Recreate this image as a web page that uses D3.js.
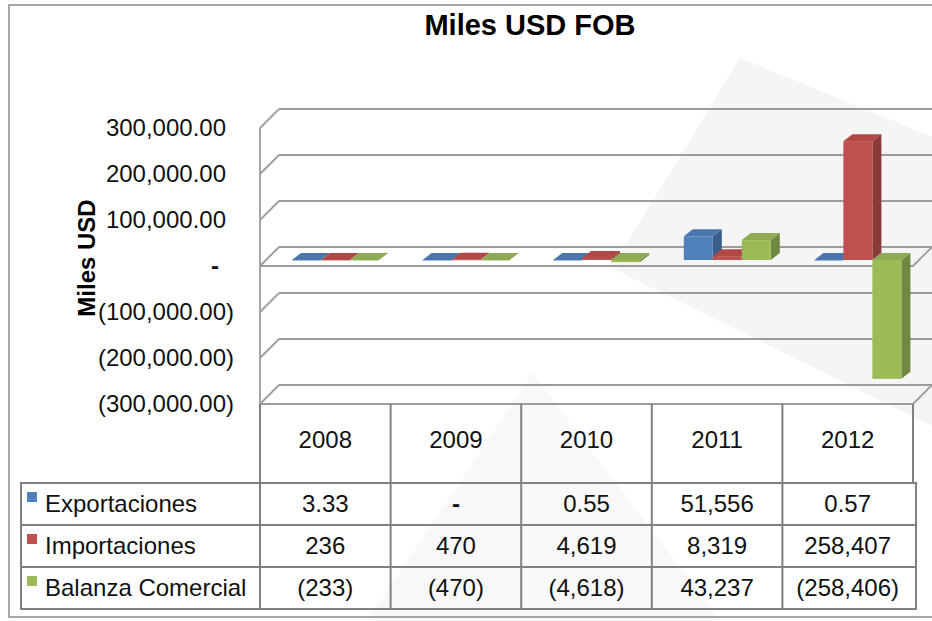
<!DOCTYPE html>
<html>
<head>
<meta charset="utf-8">
<script src="https://cdn.jsdelivr.net/npm/d3@7"></script>
<style>
  html, body { margin: 0; padding: 0; background: #fff; }
  svg { display: block; font-family: "Liberation Sans", Arial, sans-serif; }
</style>
</head>
<body>
<div id="chart"></div>
<script>
// DATA //

const years = [ '2008', '2009', '2010', '2011', '2012' ];
const seriesNames = [ 'Exportaciones', 'Importaciones', 'Balanza Comercial' ];
const exportaciones = [ 3.33, 0, 0.55, 51556, 0.57 ];
const importaciones = [ 236, 470, 4619, 8319, 258407 ];
const balanza = [ -233, -470, -4618, 43237, -258406 ];
const yTicks = [ -300000, -200000, -100000, 0, 100000, 200000, 300000 ];
const colors = [ '#4F81BD', '#C0504D', '#9BBB59' ];

const series = [ exportaciones, importaciones, balanza ];

// FUNCTIONS //

// Excel style accounting label: (1,234) for negatives, "-" for zero.
function tableLabel( v ) {
	if ( v === 0 ) return '-';
	const a = Math.abs( v );
	const s = a < 10 ? d3.format( ',.2f' )( a ) : d3.format( ',.0f' )( a );
	return v < 0 ? '(' + s + ')' : s;
}

function tickLabel( v ) {
	if ( v === 0 ) return '-';
	const s = d3.format( ',.2f' )( Math.abs( v ) );
	return v < 0 ? '(' + s + ')' : s;
}

// MAIN //

const W = 932, H = 621;
const svg = d3.select( '#chart' ).append( 'svg' )
	.attr( 'width', W )
	.attr( 'height', H );

// faint watermark shapes in the background of the scan
svg.append( 'polygon' )
	.attr( 'points', '740,58 940,140 940,430 612,268' )
	.style( 'fill', '#f5f5f5' );
svg.append( 'polygon' )
	.attr( 'points', '533,373 367,621 720,621' )
	.style( 'fill', '#f8f8f8' );

// outer frame
svg.append( 'rect' )
	.attr( 'x', 9 ).attr( 'y', 5 )
	.attr( 'width', 940 ).attr( 'height', 612 )
	.style( 'fill', 'none' )
	.style( 'stroke', '#8a8a8a' )
	.style( 'stroke-width', 1.5 );

svg.append( 'text' )
	.attr( 'x', 530 ).attr( 'y', 35 )
	.attr( 'text-anchor', 'middle' )
	.style( 'font-weight', 'bold' )
	.style( 'font-size', '29px' )
	.text( 'Miles USD FOB' );

// scales
const x = d3.scaleBand().domain( years ).range([ 260, 913 ]);
const y = d3.scaleLinear().domain([ -300000, 300000 ]).range([ 404, 128 ]);
// bars sit a little behind the front plane
const yBar = d3.scaleLinear().domain( y.domain() ).range([ 398, 122 ]);
const xSeries = d3.scaleBand().domain( seriesNames ).range([ 0, 87 ]);

const D = { dx: 19, dy: -19 };   // wall depth
const B = { dx: 9, dy: -7, sx: 32 };  // bar depth and offset inside a category
const gridStroke = '#9c9c9c';

const grid = svg.append( 'g' )
	.style( 'stroke', gridStroke )
	.style( 'stroke-width', 1.8 )
	.style( 'fill', 'none' );

// back wall lines + side wall diagonals
yTicks.forEach( t => {
	grid.append( 'line' )
		.attr( 'x1', 260 + D.dx ).attr( 'y1', y( t ) + D.dy )
		.attr( 'x2', W + 10 ).attr( 'y2', y( t ) + D.dy );
	grid.append( 'line' )
		.attr( 'x1', 260 ).attr( 'y1', y( t ) )
		.attr( 'x2', 260 + D.dx ).attr( 'y2', y( t ) + D.dy );
});

// front edge of the floor at zero and at the axis minimum
[ 0, -300000 ].forEach( t => {
	grid.append( 'polyline' )
		.attr( 'points', [
			[ 260, y( t ) ], [ 913, y( t ) ], [ 913 + D.dx, y( t ) + D.dy ]
		].join( ' ' ) );
});

// front left edge
grid.append( 'line' )
	.attr( 'x1', 260 ).attr( 'y1', y( 300000 ) )
	.attr( 'x2', 260 ).attr( 'y2', y( -300000 ) );

// axis labels
const axis = svg.append( 'g' )
	.style( 'font-size', '24px' )
	.style( 'fill', '#111' );
axis.selectAll( 'text' )
	.data( yTicks )
	.enter().append( 'text' )
	.attr( 'x', d => d < 0 ? 234 : ( d === 0 ? 219 : 226 ) )
	.attr( 'y', d => y( d ) + 8 )
	.attr( 'text-anchor', 'end' )
	.style( 'font-weight', d => d === 0 ? 'bold' : 'normal' )
	.text( tickLabel );

svg.append( 'text' )
	.attr( 'transform', 'translate(95,258) rotate(-90)' )
	.attr( 'text-anchor', 'middle' )
	.style( 'font-weight', 'bold' )
	.style( 'font-size', '24px' )
	.text( 'Miles USD' );

// bars, drawn left to right so right side faces are overlapped correctly
const bars = svg.append( 'g' );
years.forEach( ( yr, i ) => {
	series.forEach( ( vals, j ) => {
		const v = vals[ i ];
		const c = d3.color( colors[ j ] );
		const x0 = x( yr ) + B.sx + xSeries( seriesNames[ j ] );
		const x1 = x0 + xSeries.bandwidth();
		const yTop = yBar( Math.max( v, 0 ) );
		const yBot = yBar( Math.min( v, 0 ) );
		const g = bars.append( 'g' );
		// side
		g.append( 'polygon' )
			.attr( 'points', [
				[ x1, yTop ], [ x1 + B.dx, yTop + B.dy ], [ x1 + B.dx, yBot + B.dy ], [ x1, yBot ]
			].join( ' ' ) )
			.style( 'fill', c.darker( 0.9 ) );
		// front
		g.append( 'rect' )
			.attr( 'x', x0 ).attr( 'y', yTop )
			.attr( 'width', x1 - x0 ).attr( 'height', Math.max( yBot - yTop, 0.5 ) )
			.style( 'fill', c );
		// top
		g.append( 'polygon' )
			.attr( 'points', [
				[ x0, yTop ], [ x0 + B.dx, yTop + B.dy ], [ x1 + B.dx, yTop + B.dy ], [ x1, yTop ]
			].join( ' ' ) )
			.style( 'fill', c.darker( 0.25 ) );
	});
});

// data table
const rowTop = 483, rowH = 42, tLeft = 21, tRight = 916;
const table = svg.append( 'g' );
const tableLines = table.append( 'g' )
	.style( 'stroke', '#808080' )
	.style( 'stroke-width', 2 )
	.style( 'fill', 'none' );

// header cells (years) under the floor
years.forEach( yr => {
	tableLines.append( 'line' )
		.attr( 'x1', x( yr ) ).attr( 'y1', y( -300000 ) )
		.attr( 'x2', x( yr ) ).attr( 'y2', rowTop );
});
tableLines.append( 'line' )
	.attr( 'x1', 913 ).attr( 'y1', y( -300000 ) )
	.attr( 'x2', 913 ).attr( 'y2', rowTop );

tableLines.append( 'rect' )
	.attr( 'x', tLeft ).attr( 'y', rowTop )
	.attr( 'width', tRight - tLeft ).attr( 'height', rowH * 3 );
[ 1, 2 ].forEach( k => {
	tableLines.append( 'line' )
		.attr( 'x1', tLeft ).attr( 'y1', rowTop + k * rowH )
		.attr( 'x2', tRight ).attr( 'y2', rowTop + k * rowH );
});
years.forEach( yr => {
	tableLines.append( 'line' )
		.attr( 'x1', x( yr ) ).attr( 'y1', rowTop )
		.attr( 'x2', x( yr ) ).attr( 'y2', rowTop + rowH * 3 );
});

const tText = table.append( 'g' )
	.style( 'font-size', '24px' )
	.style( 'fill', '#111' );

tText.selectAll( '.yr' )
	.data( years )
	.enter().append( 'text' )
	.attr( 'class', 'yr' )
	.attr( 'x', d => x( d ) + x.bandwidth() / 2 )
	.attr( 'y', 448 )
	.attr( 'text-anchor', 'middle' )
	.text( d => d );

seriesNames.forEach( ( name, j ) => {
	const ty = rowTop + j * rowH;
	table.append( 'rect' )
		.attr( 'x', 27 ).attr( 'y', ty + 9 )
		.attr( 'width', 10 ).attr( 'height', 10 )
		.style( 'fill', colors[ j ] );
	tText.append( 'text' )
		.attr( 'x', 45 ).attr( 'y', ty + 29 )
		.text( name );
	tText.selectAll( null )
		.data( series[ j ] )
		.enter().append( 'text' )
		.attr( 'x', ( d, i ) => x( years[ i ] ) + x.bandwidth() / 2 )
		.attr( 'y', ty + 29 )
		.attr( 'text-anchor', 'middle' )
		.style( 'font-weight', d => d === 0 ? 'bold' : 'normal' )
		.text( tableLabel );
});
</script>
</body>
</html>
